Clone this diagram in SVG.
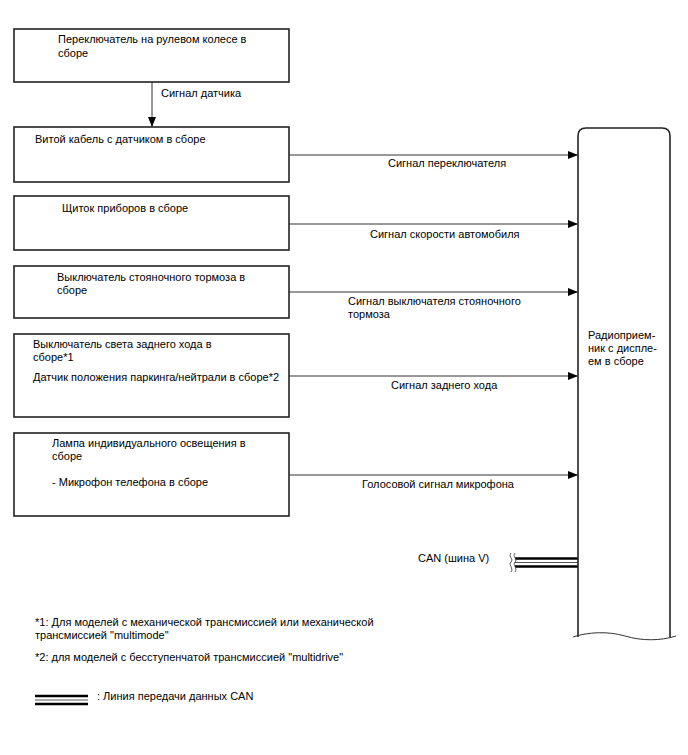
<svg xmlns="http://www.w3.org/2000/svg" width="688" height="755" viewBox="0 0 688 755">
<defs>
<style>
text{font-family:"Liberation Sans",Arial,sans-serif;font-size:11px;fill:#000}
.box{fill:#fff;stroke:#222;stroke-width:1.6}
.conn{stroke:#333;stroke-width:1;fill:none}
.blk{stroke:#000;stroke-width:2.5;fill:none}
.thin{stroke:#555;stroke-width:1;fill:none}
</style>
<marker id="ah" viewBox="0 0 10 8" refX="10" refY="4" markerWidth="10" markerHeight="8" markerUnits="userSpaceOnUse" orient="auto">
<path d="M0,0 L10,4 L0,8 Z" fill="#000"/>
</marker>
</defs>
<rect width="688" height="755" fill="#fff"/>

<g id="connectors">
<line class="conn" x1="152" y1="82" x2="152" y2="127" marker-end="url(#ah)"/>
<line class="conn" x1="289" y1="155" x2="578" y2="155" marker-end="url(#ah)"/>
<line class="conn" x1="289" y1="224" x2="578" y2="224" marker-end="url(#ah)"/>
<line class="conn" x1="289" y1="292" x2="578" y2="292" marker-end="url(#ah)"/>
<line class="conn" x1="289" y1="376" x2="578" y2="376" marker-end="url(#ah)"/>
<line class="conn" x1="289" y1="475" x2="578" y2="475" marker-end="url(#ah)"/>
<text x="161" y="97">Сигнал датчика</text>
<text x="388" y="167">Сигнал переключателя</text>
<text x="370" y="238">Сигнал скорости автомобиля</text>
<text x="348" y="305">Сигнал выключателя стояночного</text>
<text x="348" y="318">тормоза</text>
<text x="391" y="389">Сигнал заднего хода</text>
<text x="362" y="488">Голосовой сигнал микрофона</text>
<g id="can-bus">
<line class="blk" x1="515" y1="558.5" x2="578" y2="558.5"/>
<line class="thin" x1="515" y1="562.5" x2="578" y2="562.5"/>
<line class="blk" x1="515" y1="566.5" x2="578" y2="566.5"/>
<path class="thin" d="M511,553 C508,557 514,559 511,562 C508,565 514,568 511,572"/>
<path class="thin" d="M515,553 C512,557 518,559 515,562 C512,565 518,568 515,572"/>
<text x="418" y="562">CAN (шина V)</text>
</g>
</g>

<g id="n1">
<rect class="box" x="14" y="29" width="275" height="53"/>
<text x="58" y="43">Переключатель на рулевом колесе в</text>
<text x="58" y="57">сборе</text>
</g>
<g id="n2">
<rect class="box" x="14" y="127" width="275" height="55"/>
<text x="35" y="143">Витой кабель с датчиком в сборе</text>
</g>
<g id="n3">
<rect class="box" x="14" y="196" width="275" height="54"/>
<text x="62" y="212">Щиток приборов в сборе</text>
</g>
<g id="n4">
<rect class="box" x="14" y="266" width="275" height="52"/>
<text x="57" y="281">Выключатель стояночного тормоза в</text>
<text x="57" y="294">сборе</text>
</g>
<g id="n5">
<rect class="box" x="14" y="334" width="275" height="83"/>
<text x="33" y="348">Выключатель света заднего хода в</text>
<text x="33" y="361">сборе*1</text>
<text x="33" y="381">Датчик положения паркинга/нейтрали в сборе*2</text>
</g>
<g id="n6">
<rect class="box" x="14" y="433" width="275" height="83"/>
<text x="52" y="447">Лампа индивидуального освещения в</text>
<text x="52" y="460">сборе</text>
<text x="52" y="486">- Микрофон телефона в сборе</text>
</g>
<g id="n7">
<path d="M578,637 L578,136 Q578,128 586,128 L662,128 Q670,128 670,136 L670,637" fill="#fff" stroke="#222" stroke-width="1.6"/>
<path d="M573,637 C588,632 608,631 625,636 C642,641 660,641 676,636" fill="none" stroke="#333" stroke-width="1"/>
<text x="588" y="339">Радиоприем-</text>
<text x="588" y="352">ник с диспле-</text>
<text x="588" y="365">ем в сборе</text>
</g>

<g id="legend">
<text x="35" y="626">*1: Для моделей с механической трансмиссией или механической</text>
<text x="35" y="639">трансмиссией "multimode"</text>
<text x="35" y="661">*2: для моделей с бесступенчатой трансмиссией "multidrive"</text>
<line class="blk" x1="35" y1="696" x2="88" y2="696"/>
<line class="thin" x1="35" y1="700" x2="88" y2="700"/>
<line class="blk" x1="35" y1="704" x2="88" y2="704"/>
<text x="97" y="700">: Линия передачи данных CAN</text>
</g>
</svg>
